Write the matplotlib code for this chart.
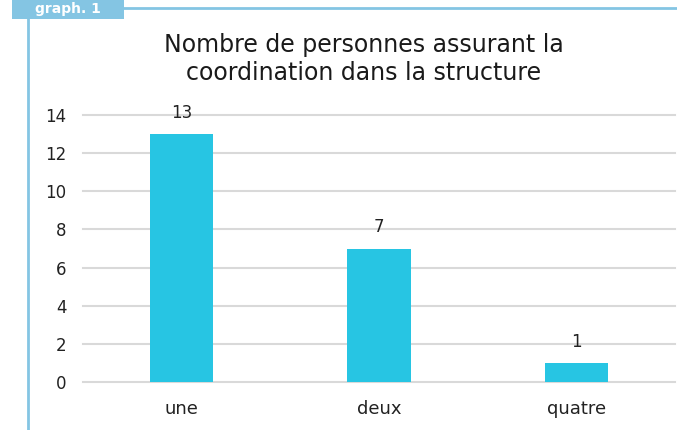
import matplotlib
matplotlib.use("Agg")
import matplotlib.pyplot as plt
from matplotlib.patches import Rectangle
from matplotlib.lines import Line2D

categories = ["une", "deux", "quatre"]
values = [13, 7, 1]
yticks = [0, 2, 4, 6, 8, 10, 12, 14]
title = "Nombre de personnes assurant la\ncoordination dans la structure"
tab_label = "graph. 1"

W, H = 677, 430
fig = plt.figure(figsize=(W / 100, H / 100), dpi=100)
plt.rcParams['font.family'] = ['DejaVu Sans']

# frame decoration
frame_col = "#84c5e3"
fig.add_artist(Rectangle((12 / W, 1 - 19 / H), 112 / W, 19 / H, transform=fig.transFigure,
                         facecolor=frame_col, edgecolor="none"))
fig.text(68 / W, 1 - 9.5 / H, tab_label, color="white", fontsize=10, fontweight="bold",
         ha="center", va="center")
fig.add_artist(Line2D([124 / W, 1], [1 - 8 / H, 1 - 8 / H], transform=fig.transFigure,
                      color=frame_col, lw=2))
fig.add_artist(Line2D([28 / W, 28 / W], [0, 1 - 19 / H], transform=fig.transFigure,
                      color=frame_col, lw=2))

left, right = 83, 675
bottom, top = 382, 115
ax = fig.add_axes([left / W, 1 - bottom / H, (right - left) / W, (bottom - top) / H])
x = list(range(len(categories)))
bars = ax.bar(x, values, width=0.32, color="#27c5e3", zorder=3)
ax.set_xlim(-0.5, 2.5)
ax.set_ylim(0, 14)
ax.set_yticks(yticks)
ax.set_yticklabels([str(t) for t in yticks], fontsize=12, color="#222222")
ax.set_xticks(x)
ax.set_xticklabels(categories, fontsize=13, color="#222222")
ax.tick_params(axis="both", length=0)
ax.tick_params(axis="y", pad=12)
ax.tick_params(axis="x", pad=13)
ax.grid(axis="y", color="#d9d9d9", lw=1.5, zorder=0)
for gl in ax.get_ygridlines():
    gl.set_clip_on(False)
for s in ax.spines.values():
    s.set_visible(False)
for xi, v in zip(x, values):
    ax.text(xi, v + 0.65, str(v), ha="center", va="bottom", fontsize=12, color="#222222",
            clip_on=False)

fig.text(364 / W, 1 - 59 / H, title, ha="center", va="center", fontsize=17,
         color="#1a1a1a", linespacing=1.2)

fig.savefig("out.png", dpi=100)
